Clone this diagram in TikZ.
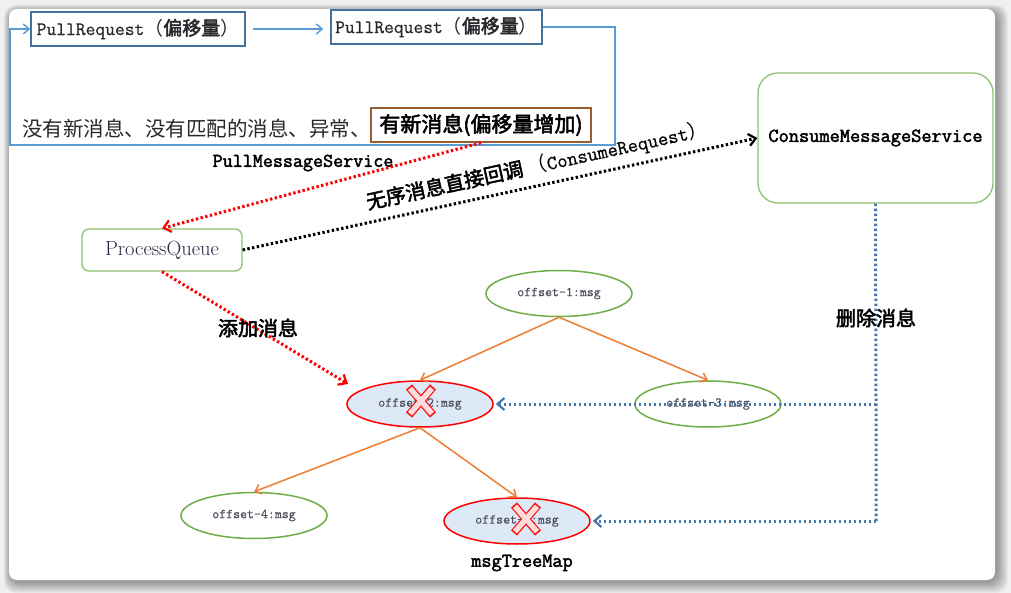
\documentclass[tikz,border=0pt]{standalone}
\usepackage{fontspec}
\newfontfamily\cjk{Noto Sans CJK SC}
\newfontfamily\cjkb{Noto Sans CJK SC}[FakeBold=2.5]
\newfontfamily\mono{Latin Modern Mono}[FakeBold=0.6]
\newfontfamily\monob{Latin Modern Mono}[FakeBold=2.2]
\usetikzlibrary{arrows.meta,shapes.geometric}
\definecolor{bgc}{RGB}{240,240,240}
\definecolor{boxblue}{RGB}{65,113,156}
\definecolor{lineblue}{RGB}{91,155,213}
\definecolor{brownc}{RGB}{152,94,52}
\definecolor{boxgreen}{RGB}{140,195,110}
\definecolor{ellgreen}{RGB}{112,173,71}
\definecolor{orangec}{RGB}{237,125,49}
\definecolor{dotblue}{RGB}{70,120,172}
\definecolor{fillblue}{RGB}{222,233,247}
\definecolor{txtgray}{RGB}{40,40,45}
\definecolor{pqtext}{RGB}{35,40,70}
\definecolor{offgray}{RGB}{80,80,95}
\tikzset{
  reqbox/.style={draw=boxblue, line width=1.4, minimum height=34, inner sep=0, text=txtgray},
  rbox/.style={draw=boxgreen, line width=1.3, rounded corners=7, inner sep=0},
  ell/.style={ellipse, draw=ellgreen, line width=1.5, minimum width=146, minimum height=46, inner sep=0,
    font=\mono\fontsize{13.5}{14}\selectfont, text=offgray},
  ellred/.style={ell, draw=red, fill=fillblue},
  bluearrow/.style={lineblue, line width=1.4, -{Straight Barb[length=6,width=10]}},
  reddot/.style={red, line width=3, dash pattern=on 2.4 off 2.4, -{Straight Barb[length=7,width=12,line width=2.2]}},
  blackdot/.style={black, line width=3, dash pattern=on 2.4 off 2.4, -{Straight Barb[length=7,width=12,line width=2.2]}},
  bluedot/.style={dotblue, line width=3, dash pattern=on 2.4 off 2.6},
  orarrow/.style={orangec, line width=1.5, -{Straight Barb[length=6,width=10]}},
  lbl/.style={inner sep=0, font=\cjkb\fontsize{20}{22}\selectfont},
  xmark/.style={line width=8}
}
\begin{document}
\begin{tikzpicture}[x=1pt,y=-1pt]
\useasboundingbox (0,0) rectangle (1011,593);
% screenshot frame
\fill[bgc] (0,0) rectangle (1011,593);
\foreach \i in {1,...,12}
  \fill[black, opacity=0.035, rounded corners=12] (9-\i*0.6+2,9-\i*0.6+3) rectangle (995+\i+1,580+\i+1);
\fill[white, rounded corners=8] (9,9) rectangle (995,580);

% top request loop
\node[reqbox, minimum width=214, font=\fontsize{19}{20}\selectfont] (pr1) at (138,29) {\mono PullRequest\cjk （\cjkb 偏移量\cjk ）};
\node[reqbox, minimum width=211, font=\fontsize{19}{20}\selectfont] (pr2) at (436.5,27) {\mono PullRequest\cjk （\cjkb 偏移量\cjk ）};
\draw[bluearrow, shorten <=7, shorten >=7] (pr1.east) -- (pr2.west |- pr1.east);
\node[anchor=west, inner sep=0, font=\cjk\fontsize{20.5}{22}\selectfont, text=txtgray] (nomsg) at (22,129) {没有新消息、没有匹配的消息、异常、};
\node[draw=brownc, line width=1.6, minimum width=220, minimum height=34, inner sep=0, font=\cjkb\fontsize{21}{22}\selectfont] (newmsg) at (481,125) {有新消息(偏移量增加)};
\draw[bluearrow] (pr2.east) -- (615,27) -- (615,145) -- (10,145) -- (10,29) -- (pr1.west);
\node[inner sep=0, font=\monob\fontsize{19.5}{21}\selectfont] (pms) at (303,163) {PullMessageService};

% services
\node[rbox, minimum width=160, minimum height=42, font=\fontsize{20.5}{22}\selectfont, text=pqtext] (pq) at (162,250) {ProcessQueue};
\node[rbox, rounded corners=20, minimum width=235, minimum height=130, font=\monob\fontsize{19.8}{21}\selectfont] (cms) at (875.5,138) {ConsumeMessageService};

% tree
\node[ell] (o1) at (559,293.5) {offset-1:msg};
\node[ellred] (o2) at (420,404) {offset-2:msg};
\node[ell] (o3) at (708,404) {offset-3:msg};
\node[ell] (o4) at (254,515.5) {offset-4:msg};
\node[ellred] (o5) at (517,521) {offset-5:msg};
\draw[orarrow] (o1.south) -- (o2.north);
\draw[orarrow] (o1.south) -- (o3.north);
\draw[orarrow] (o2.south) -- (o4.north);
\draw[orarrow] (o2.south) -- (o5.north);
\node[inner sep=0, font=\monob\fontsize{19.7}{21}\selectfont] (tm) at (522,563) {msgTreeMap};

% red crosses
\foreach \cx/\cy in {421/401, 526/519}{
  \draw[red, xmark, opacity=0.9] (\cx-12,\cy-14) -- (\cx+12,\cy+14) (\cx+12,\cy-14) -- (\cx-12,\cy+14);
  \draw[white, line width=5.4, opacity=0.85] (\cx-11,\cy-12.6) -- (\cx+11,\cy+12.6) (\cx+11,\cy-12.6) -- (\cx-11,\cy+12.6);
}

% flows
\draw[reddot] (newmsg.south) -- (pq.north);
\draw[blackdot] (pq.east) -- (cms.west)
  node[pos=0.58, sloped, above=7pt, inner sep=0, font=\fontsize{20}{22}\selectfont] (cblbl) {\cjkb 无序消息直接回调 \cjk （\mono ConsumeRequest\cjk ）};
\coordinate (addtip) at (348,384);
\draw[reddot] (pq.south) -- (addtip);
\node[lbl] (addl) at (258,328) {添加消息};

\coordinate (j1) at (876,404);
\coordinate (j2) at (876,521);
\draw[bluedot] (cms.south) -- (j1) -- (j2);
\draw[bluedot, -{Straight Barb[length=7,width=12,line width=2.2]}] (j1) -- ([xshift=2pt]o2.east);
\draw[bluedot, -{Straight Barb[length=7,width=12,line width=2.2]}] (j2) -- ([xshift=2pt]o5.east);
\node[lbl] (dell) at (876,318) {删除消息};
\end{tikzpicture}
\end{document}
